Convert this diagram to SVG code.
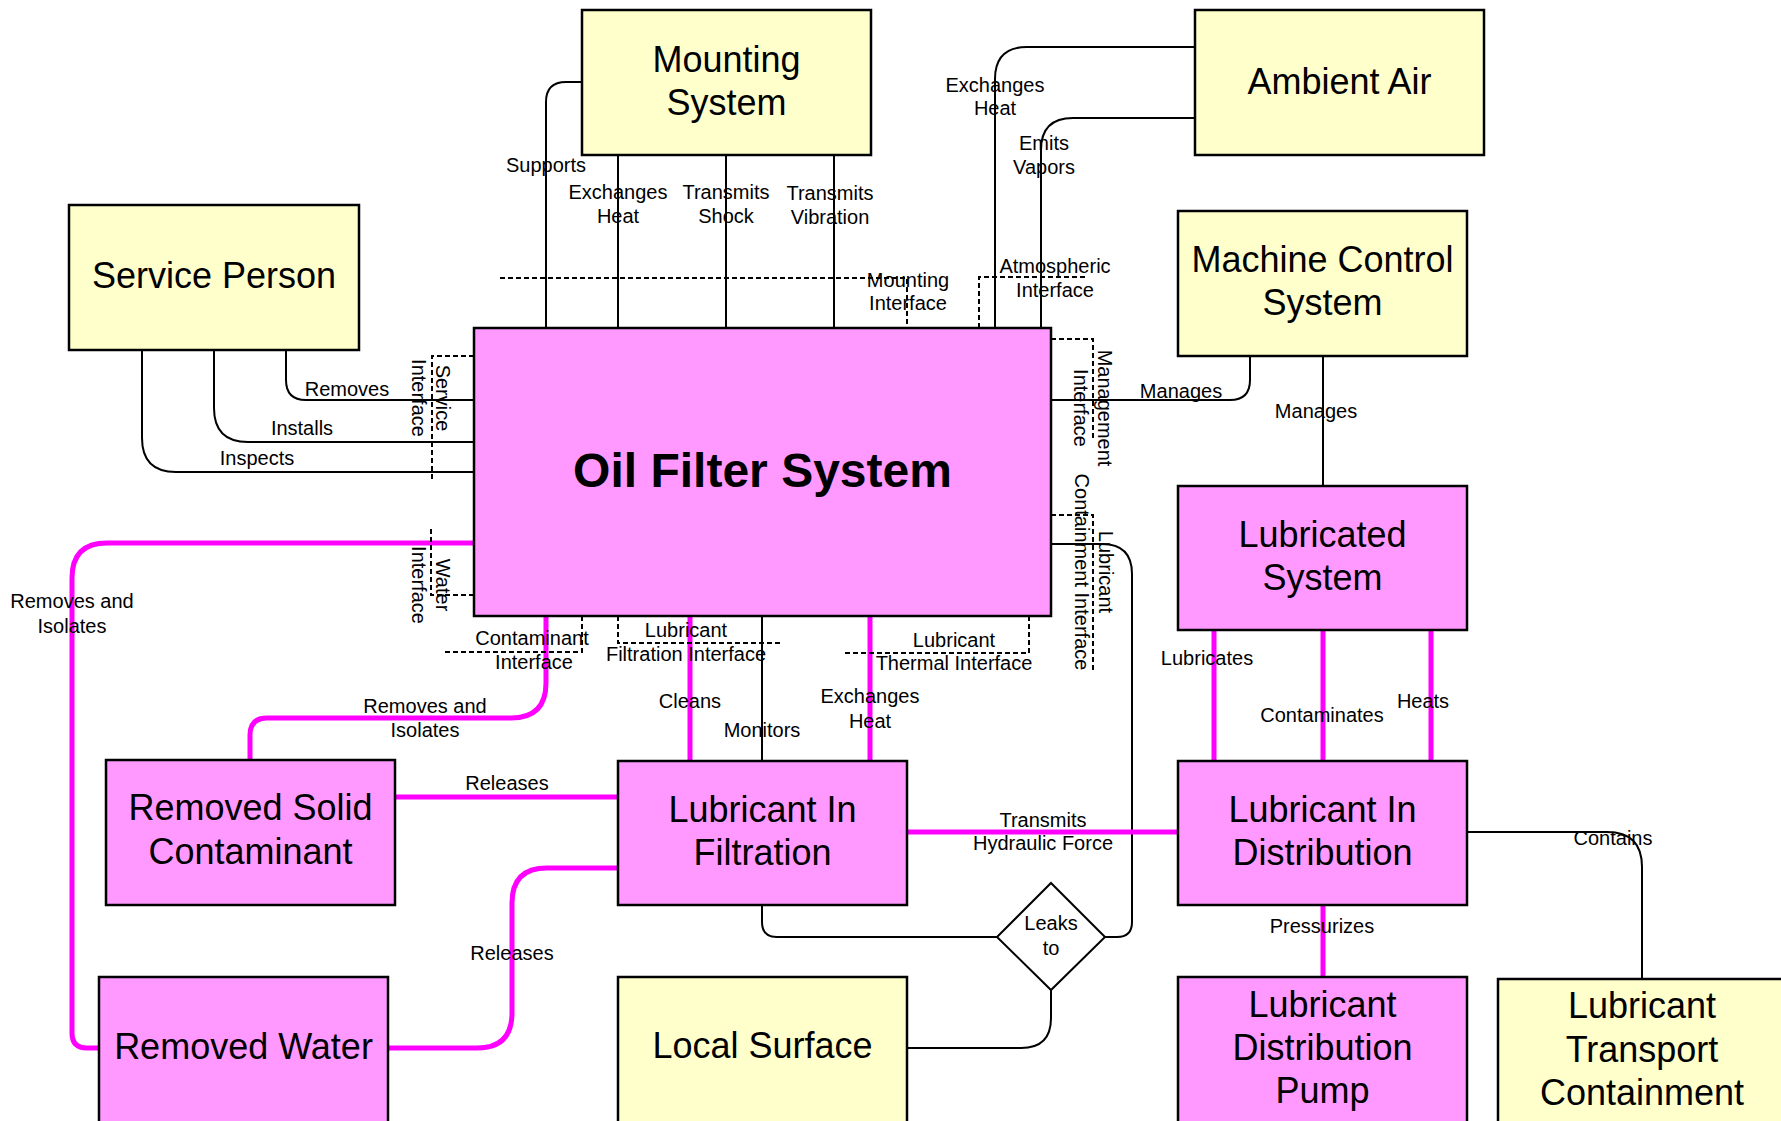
<svg xmlns="http://www.w3.org/2000/svg" width="1781" height="1121" viewBox="0 0 1781 1121">
<style>
.y{fill:#ffffcc;stroke:#000;stroke-width:2.5}
.p{fill:#ff99ff;stroke:#000;stroke-width:2.5}
.nt{font-family:"Liberation Sans",Arial,sans-serif;font-size:36px;fill:#000;text-anchor:middle}
.bt{font-family:"Liberation Sans",Arial,sans-serif;font-size:48px;font-weight:bold;fill:#000;text-anchor:middle}
.lb{font-family:"Liberation Sans",Arial,sans-serif;font-size:20px;fill:#000;text-anchor:middle}
.k{fill:none;stroke:#000;stroke-width:2}
.m{fill:none;stroke:#ff00ff;stroke-width:5}
.d{fill:none;stroke:#000;stroke-width:2;stroke-dasharray:5,3}
</style>
<rect width="1781" height="1121" fill="#fff"/>
<g id="connectors">
<!-- Mounting -->
<path class="k" d="M582,82 H566 Q546,82 546,102 V328"/>
<path class="k" d="M618,155 V328"/>
<path class="k" d="M726,155 V331"/>
<path class="k" d="M834,155 V328"/>
<!-- Ambient -->
<path class="k" d="M1195,47 H1027 Q995,47 995,79 V328"/>
<path class="k" d="M1195,118 H1073 Q1041,118 1041,150 V328"/>
<!-- Service person -->
<path class="k" d="M286,350 V380 Q286,400 306,400 H474"/>
<path class="k" d="M214,350 V408 Q214,442 248,442 H474"/>
<path class="k" d="M142,350 V438 Q142,472 176,472 H474"/>
<!-- Machine control -->
<path class="k" d="M1051,400 H1230 Q1250,400 1250,380 V356"/>
<path class="k" d="M1323,356 V486"/>
<!-- leak -->
<path class="k" d="M1051,544 H1102 Q1132,544 1132,574 V922 Q1132,937 1117,937 H1105"/>
<path class="k" d="M762,905 V922 Q762,937 777,937 H997"/>
<path class="k" d="M1051,990 V1018 Q1051,1048 1021,1048 H907"/>
<path class="k" d="M762,616 V761"/>
<path class="k" d="M1467,832 H1607 Q1642,832 1642,867 V979"/>
<!-- magenta -->
<path class="m" d="M474,543 H107 Q72,543 72,578 V1033 Q72,1048 87,1048 H99"/>
<path class="m" d="M546,616 V683 Q546,718 511,718 H267 Q250,718 250,735 V760"/>
<path class="m" d="M395,797 H618"/>
<path class="m" d="M618,868 H547 Q512,868 512,903 V1013 Q512,1048 477,1048 H388"/>
<path class="m" d="M690,616 V761"/>
<path class="m" d="M870,616 V761"/>
<path class="m" d="M907,832 H1178"/>
<path class="m" d="M1214,630 V761"/>
<path class="m" d="M1323,630 V761"/>
<path class="m" d="M1431,630 V761"/>
<path class="m" d="M1323,905 V977"/>
<!-- interfaces -->
<path class="d" d="M500,278 H907 V328"/>
<path class="d" d="M979,328 V277 H1088"/>
<path class="d" d="M1051,339 H1093 V438"/>
<path class="d" d="M1051,515 H1093 V670"/>
<path class="d" d="M1029,616 V653 H844"/>
<path class="d" d="M618,616 V643 H782"/>
<path class="d" d="M582,616 V652 H443"/>
<path class="d" d="M474,595 H431 V529"/>
<path class="d" d="M474,356 H432 V482"/>
</g>
<g id="labels">
<text class="lb" x="546" y="172">Supports</text>
<text class="lb" x="618" y="199">Exchanges<tspan x="618" y="223">Heat</tspan></text>
<text class="lb" x="726" y="199">Transmits<tspan x="726" y="223">Shock</tspan></text>
<text class="lb" x="830" y="200">Transmits<tspan x="830" y="224">Vibration</tspan></text>
<text class="lb" x="908" y="287">Mounting<tspan x="908" y="310">Interface</tspan></text>
<text class="lb" x="1055" y="273">Atmospheric<tspan x="1055" y="297">Interface</tspan></text>
<text class="lb" x="995" y="92">Exchanges<tspan x="995" y="115">Heat</tspan></text>
<text class="lb" x="1044" y="150">Emits<tspan x="1044" y="174">Vapors</tspan></text>
<text class="lb" x="347" y="396">Removes</text>
<text class="lb" x="302" y="435">Installs</text>
<text class="lb" x="257" y="465">Inspects</text>
<text class="lb" transform="translate(424,398) rotate(90)" x="0" y="-12">Service<tspan x="0" y="12">Interface</tspan></text>
<text class="lb" transform="translate(424,585) rotate(90)" x="0" y="-12">Water<tspan x="0" y="12">Interface</tspan></text>
<text class="lb" transform="translate(1086,408) rotate(90)" x="0" y="-12">Management<tspan x="0" y="12">Interface</tspan></text>
<text class="lb" transform="translate(1087,572) rotate(90)" x="0" y="-12">Lubricant<tspan x="0" y="12">Containment Interface</tspan></text>
<text class="lb" x="1181" y="398">Manages</text>
<text class="lb" x="1316" y="418">Manages</text>
<text class="lb" x="72" y="608">Removes and<tspan x="72" y="633">Isolates</tspan></text>
<text class="lb" x="425" y="713">Removes and<tspan x="425" y="737">Isolates</tspan></text>
<text class="lb" x="532" y="645">Contaminant<tspan x="534" y="669">Interface</tspan></text>
<text class="lb" x="686" y="637">Lubricant<tspan x="686" y="661">Filtration Interface</tspan></text>
<text class="lb" x="954" y="647">Lubricant<tspan x="954" y="670">Thermal Interface</tspan></text>
<text class="lb" x="690" y="708">Cleans</text>
<text class="lb" x="762" y="737">Monitors</text>
<text class="lb" x="870" y="703">Exchanges<tspan x="870" y="728">Heat</tspan></text>
<text class="lb" x="507" y="790">Releases</text>
<text class="lb" x="512" y="960">Releases</text>
<text class="lb" x="1043" y="827">Transmits<tspan x="1043" y="850">Hydraulic Force</tspan></text>
<text class="lb" x="1207" y="665">Lubricates</text>
<text class="lb" x="1322" y="722">Contaminates</text>
<text class="lb" x="1423" y="708">Heats</text>
<text class="lb" x="1322" y="933">Pressurizes</text>
<text class="lb" x="1613" y="845">Contains</text>
</g>
<g id="n-mounting"><rect class="y" x="582" y="10" width="289" height="145"/><text class="nt" x="726.5" y="72">Mounting<tspan x="726.5" y="115">System</tspan></text></g>
<g id="n-ambient"><rect class="y" x="1195" y="10" width="289" height="145"/><text class="nt" x="1339.5" y="94">Ambient Air</text></g>
<g id="n-service"><rect class="y" x="69" y="205" width="290" height="145"/><text class="nt" x="214" y="288">Service Person</text></g>
<g id="n-machine"><rect class="y" x="1178" y="211" width="289" height="145"/><text class="nt" x="1322.5" y="272">Machine Control<tspan x="1322.5" y="315">System</tspan></text></g>
<g id="n-oilfilter"><rect class="p" x="474" y="328" width="577" height="288"/><text class="bt" x="762.5" y="487">Oil Filter System</text></g>
<g id="n-lubricated"><rect class="p" x="1178" y="486" width="289" height="144"/><text class="nt" x="1322.5" y="547">Lubricated<tspan x="1322.5" y="590">System</tspan></text></g>
<g id="n-solid"><rect class="p" x="106" y="760" width="289" height="145"/><text class="nt" x="250.5" y="820">Removed Solid<tspan x="250.5" y="864">Contaminant</tspan></text></g>
<g id="n-filtration"><rect class="p" x="618" y="761" width="289" height="144"/><text class="nt" x="762.5" y="822">Lubricant In<tspan x="762.5" y="865">Filtration</tspan></text></g>
<g id="n-distribution"><rect class="p" x="1178" y="761" width="289" height="144"/><text class="nt" x="1322.5" y="822">Lubricant In<tspan x="1322.5" y="865">Distribution</tspan></text></g>
<g id="n-water"><rect class="p" x="99" y="977" width="289" height="146"/><text class="nt" x="243.5" y="1059">Removed Water</text></g>
<g id="n-local"><rect class="y" x="618" y="977" width="289" height="146"/><text class="nt" x="762.5" y="1058">Local Surface</text></g>
<g id="n-pump"><rect class="p" x="1178" y="977" width="289" height="146"/><text class="nt" x="1322.5" y="1017">Lubricant<tspan x="1322.5" y="1060">Distribution</tspan><tspan x="1322.5" y="1103">Pump</tspan></text></g>
<g id="n-transport"><rect class="y" x="1498" y="979" width="289" height="146"/><text class="nt" x="1642" y="1018">Lubricant<tspan x="1642" y="1062">Transport</tspan><tspan x="1642" y="1105">Containment</tspan></text></g>
<g id="n-leaks"><polygon fill="#fff" stroke="#000" stroke-width="2" points="1051,883 1105,937 1051,990 997,937"/><text class="lb" x="1051" y="930">Leaks<tspan x="1051" y="955">to</tspan></text></g>
</svg>
